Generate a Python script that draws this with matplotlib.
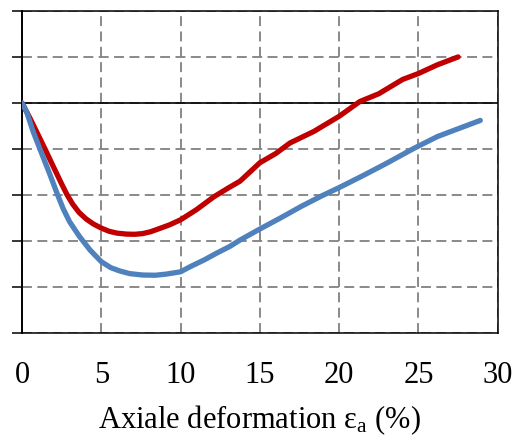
import matplotlib
matplotlib.use("Agg")
import matplotlib.pyplot as plt

plt.rcParams['font.family'] = ['Liberation Serif', 'DejaVu Serif']
plt.rcParams['mathtext.fontset'] = 'custom'
plt.rcParams['mathtext.rm'] = 'Liberation Serif'

# Red series
red_x = [0, 0.5, 1.0, 1.45, 2.0, 2.5, 2.85, 3.2, 3.6, 4.04, 4.5, 5.0, 5.5, 6.0, 6.57, 7.1, 7.6,
         8.1, 8.67, 9.3, 10, 11, 12.1, 13.0, 13.75, 15, 16.0, 16.9, 18.4, 20, 21.3, 22.5, 24.0,
         25, 26.2, 27.5]
red_y = [0, -0.33, -0.68, -1.0, -1.4, -1.76, -2.0, -2.2, -2.38, -2.52, -2.63, -2.72, -2.79,
         -2.83, -2.85, -2.855, -2.84, -2.8, -2.73, -2.65, -2.54, -2.32, -2.04, -1.85, -1.7, -1.3,
         -1.1, -0.87, -0.62, -0.29, 0.03, 0.2, 0.51, 0.64, 0.83, 1.0]

# Blue series
blue_x = [0, 0.3, 0.7, 1.13, 1.7, 2.25, 2.6, 3.0, 3.62, 4.3, 5.0, 5.6, 6.15, 6.8, 7.62, 8.4, 9.1,
          10, 10.6, 11.5, 12.3, 13.1, 13.75, 15, 16.3, 17.6, 18.9, 20, 21.5, 23.0, 24.7, 26.2, 28.9]
blue_y = [0, -0.2, -0.62, -1.0, -1.5, -2.0, -2.3, -2.58, -2.9, -3.2, -3.45, -3.58, -3.65, -3.71,
          -3.74, -3.745, -3.72, -3.67, -3.56, -3.41, -3.26, -3.12, -2.98, -2.74, -2.5, -2.25,
          -2.02, -1.84, -1.58, -1.31, -0.99, -0.73, -0.38]

x_ticks = [0, 5, 10, 15, 20, 25, 30]
y_ticks = [-5, -4, -3, -2, -1, 0, 1, 2]

fig = plt.figure(figsize=(5.16, 4.37), dpi=100)
ax = fig.add_axes([0.0426, 0.238, 0.922, 0.737])

ax.set_xlim(0, 30)
ax.set_ylim(-5, 2)
ax.set_xticks(x_ticks)
ax.set_yticks(y_ticks)
ax.set_yticklabels([])
ax.grid(True, color='#808080', linestyle=(0, (5.5, 3.0)), linewidth=1.3)
ax.set_axisbelow(True)
ax.axhline(0, color='black', linewidth=1.2, zorder=2)

ax.plot(red_x, red_y, color='#C00000', linewidth=3.8, solid_capstyle='round',
        solid_joinstyle='round', zorder=3)
ax.plot(blue_x, blue_y, color='#4F81BD', linewidth=3.8, solid_capstyle='round',
        solid_joinstyle='round', zorder=4)

for s in ['top', 'right', 'bottom']:
    ax.spines[s].set_linewidth(1.1)
ax.spines['left'].set_linewidth(1.4)

ax.tick_params(axis='x', length=0, pad=20, labelsize=22)
ax.tick_params(axis='y', direction='out', length=7, width=1.1, left=True)

ax.set_xlabel(r'Axiale deformation $\mathregular{ε_a}$ (%)', fontsize=22, labelpad=10)

fig.savefig('out.png', dpi=100)
